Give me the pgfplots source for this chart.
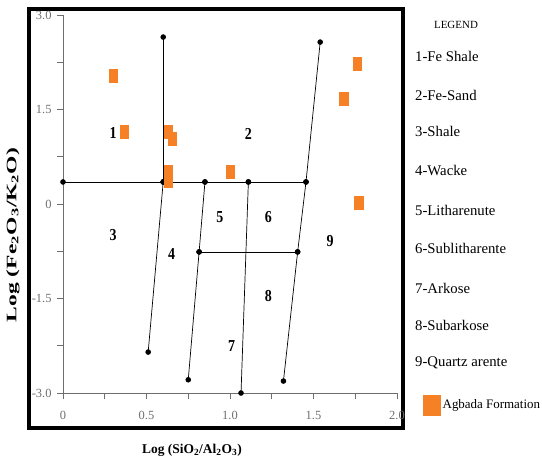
\documentclass[border=0pt]{standalone}
\usepackage{fontspec}
\setmainfont{Liberation Serif}
\usepackage{pgfplots}
\pgfplotsset{compat=1.18}
\definecolor{agb}{RGB}{246,128,38}
\definecolor{tickgray}{RGB}{110,110,110}
\begin{document}
\begin{tikzpicture}[x=1bp,y=1bp]
\path[use as bounding box] (0,0) rectangle (542,-460);
\draw[line width=4bp] (29,-9) rectangle (403,-428);
\begin{axis}[
  at={(63bp,-393bp)}, anchor=south west,
  width=334bp, height=378bp, scale only axis,
  xmin=0, xmax=2, ymin=-3, ymax=3,
  axis lines*=left,
  axis line style={tickgray, line width=0.6bp},
  tick align=outside,
  tick style={tickgray, line width=0.6bp},
  major tick length=6bp,
  xtick={0,0.25,0.5,0.75,1,1.25,1.5,1.75,2},
  xticklabels={0,,0.5,,1.0,,1.5,,2.0},
  ytick={-3,-2.25,-1.5,-0.75,0,0.75,1.5,2.25,3},
  yticklabels={-3.0,,-1.5,,0,,1.5,,3.0},
  ticklabel style={font=\fontsize{12.5}{14}\selectfont, text=tickgray},
  xticklabel style={yshift=-9bp},
  yticklabel style={xshift=-2bp},
  clip=false,
  xlabel={Log (SiO\textsubscript{2}/Al\textsubscript{2}O\textsubscript{3})},
  xlabel style={at={(axis description cs:0.386,-0.151)}, anchor=center, font=\fontsize{13.5}{15}\selectfont\bfseries},
  ylabel={Log (Fe\textsubscript{2}O\textsubscript{3}/K\textsubscript{2}O)},
  ylabel style={at={(axis description cs:-0.15,0.418)}, anchor=center, font=\fontsize{14.5}{16}\selectfont\bfseries, xscale=1.63},
  legend style={draw=none, fill=none, inner sep=0pt, at={(axis description cs:1.078,-0.032)}, anchor=west, font=\fontsize{13}{15}\selectfont, /tikz/every even column/.style={column sep=2bp}},
  legend cell align=left,
]
% classification boundaries
\addplot[black, line width=0.7bp, mark=*, mark size=2.4bp, forget plot] coordinates {(0,0.35) (0.6,0.35) (0.85,0.35) (1.11,0.35) (1.455,0.35)};
\addplot[black, line width=0.7bp, mark=*, mark size=2.4bp, forget plot] coordinates {(0.6,2.65) (0.6,0.35)};
\addplot[black, line width=0.7bp, mark=*, mark size=2.4bp, forget plot] coordinates {(0.6,0.35) (0.51,-2.35)};
\addplot[black, line width=0.7bp, mark=*, mark size=2.4bp, forget plot] coordinates {(0.85,0.35) (0.815,-0.76) (0.75,-2.79)};
\addplot[black, line width=0.7bp, mark=*, mark size=2.4bp, forget plot] coordinates {(0.815,-0.76) (1.405,-0.76)};
\addplot[black, line width=0.7bp, mark=*, mark size=2.4bp, forget plot] coordinates {(1.11,0.35) (1.066,-3.0)};
\addplot[black, line width=0.7bp, mark=*, mark size=2.4bp, forget plot] coordinates {(1.54,2.57) (1.455,0.35) (1.405,-0.76) (1.32,-2.81)};
% samples
\addplot[only marks, mark=square*, mark size=4.2bp, color=agb, mark options={yscale=1.55},
  legend image code/.code={\fill[agb] (0bp,-10bp) rectangle (17bp,10bp);}] coordinates {
  (0.30,2.03) (0.365,1.14) (0.63,1.14) (0.655,1.04) (0.63,0.52) (0.63,0.37)
  (1.0,0.52) (1.76,2.22) (1.68,1.67) (1.77,0.02)};
\addlegendentry{Agbada Formation}
% region numbers
\begin{scope}[every node/.style={font=\fontsize{14}{16}\selectfont\bfseries, yscale=1.2}]
\node at (axis cs:0.30,1.12) {1};
\node at (axis cs:1.11,1.11) {2};
\node at (axis cs:0.30,-0.49) {3};
\node at (axis cs:0.65,-0.80) {4};
\node at (axis cs:0.94,-0.21) {5};
\node at (axis cs:1.23,-0.21) {6};
\node at (axis cs:1.01,-2.25) {7};
\node at (axis cs:1.23,-1.46) {8};
\node at (axis cs:1.60,-0.59) {9};
\end{scope}
\end{axis}
% legend text
\node[font=\fontsize{11}{13}\selectfont] at (456,-25) {LEGEND};
\begin{scope}[every node/.style={anchor=west, inner sep=0pt, font=\fontsize{14.8}{16}\selectfont}]
\node at (415,-56) {1-Fe Shale};
\node at (415,-95) {2-Fe-Sand};
\node at (415,-131) {3-Shale};
\node at (415,-170) {4-Wacke};
\node at (415,-210) {5-Litharenute};
\node at (415,-248) {6-Sublitharente};
\node at (415,-288) {7-Arkose};
\node at (415,-325) {8-Subarkose};
\node at (415,-363) {9-Quartz arente};
\end{scope}
\end{tikzpicture}
\end{document}
